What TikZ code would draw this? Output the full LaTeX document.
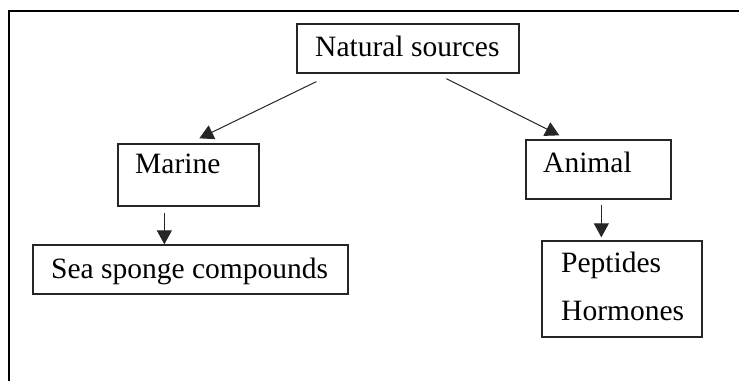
\documentclass[tikz,border=0pt]{standalone}
\usepackage{fontspec}
\setmainfont{Liberation Serif}
\usetikzlibrary{arrows.meta}
\begin{document}
\begin{tikzpicture}[x=1pt,y=-1pt,
  box/.style={draw=black!85,line width=1.3pt,rectangle,inner sep=0pt},
  lbl/.style={anchor=base west,inner sep=0pt,font=\fontsize{29.5}{35}\selectfont},
  arr/.style={draw=black!85,line width=1pt,-{Triangle[length=14pt,width=15pt]}}]
\useasboundingbox (0,0) rectangle (739,381);
\draw[line width=2pt] (8.5,381) -- (8.5,10.5) -- (739,10.5);
% boxes
\node[box,minimum width=222pt,minimum height=49pt] (ns) at (408,48.5) {};
\node[box,minimum width=141pt,minimum height=62pt] (mar) at (188.5,175) {};
\node[box,minimum width=145pt,minimum height=59pt] (ani) at (598.5,169.5) {};
\node[box,minimum width=315pt,minimum height=49pt] (sea) at (190.5,269.5) {};
\node[box,minimum width=160pt,minimum height=96pt] (pep) at (622,289) {};
% texts
\node[lbl] (tns) at (315,56) {Natural sources};
\node[lbl] (tmar) at (135,173) {Marine};
\node[lbl] (tani) at (543,172) {Animal};
\node[lbl] (tsea) at (51,278) {Sea sponge compounds};
\node[lbl] (tpep) at (561,272) {Peptides};
\node[lbl] (thor) at (561,320) {Hormones};
% arrows
\draw[arr] ([xshift=20pt,yshift=-8pt]ns.south west) -- ([xshift=82pt,yshift=5pt]mar.north west);
\draw[arr] ([xshift=150pt,yshift=-5pt]ns.south west) -- ([xshift=34pt,yshift=4pt]ani.north west);
\draw[arr] ([xshift=47pt,yshift=-6pt]mar.south west) -- ([xshift=132pt]sea.north west);
\draw[arr] ([xshift=76pt,yshift=-5pt]ani.south west) -- ([xshift=60pt,yshift=3pt]pep.north west);
\end{tikzpicture}
\end{document}
